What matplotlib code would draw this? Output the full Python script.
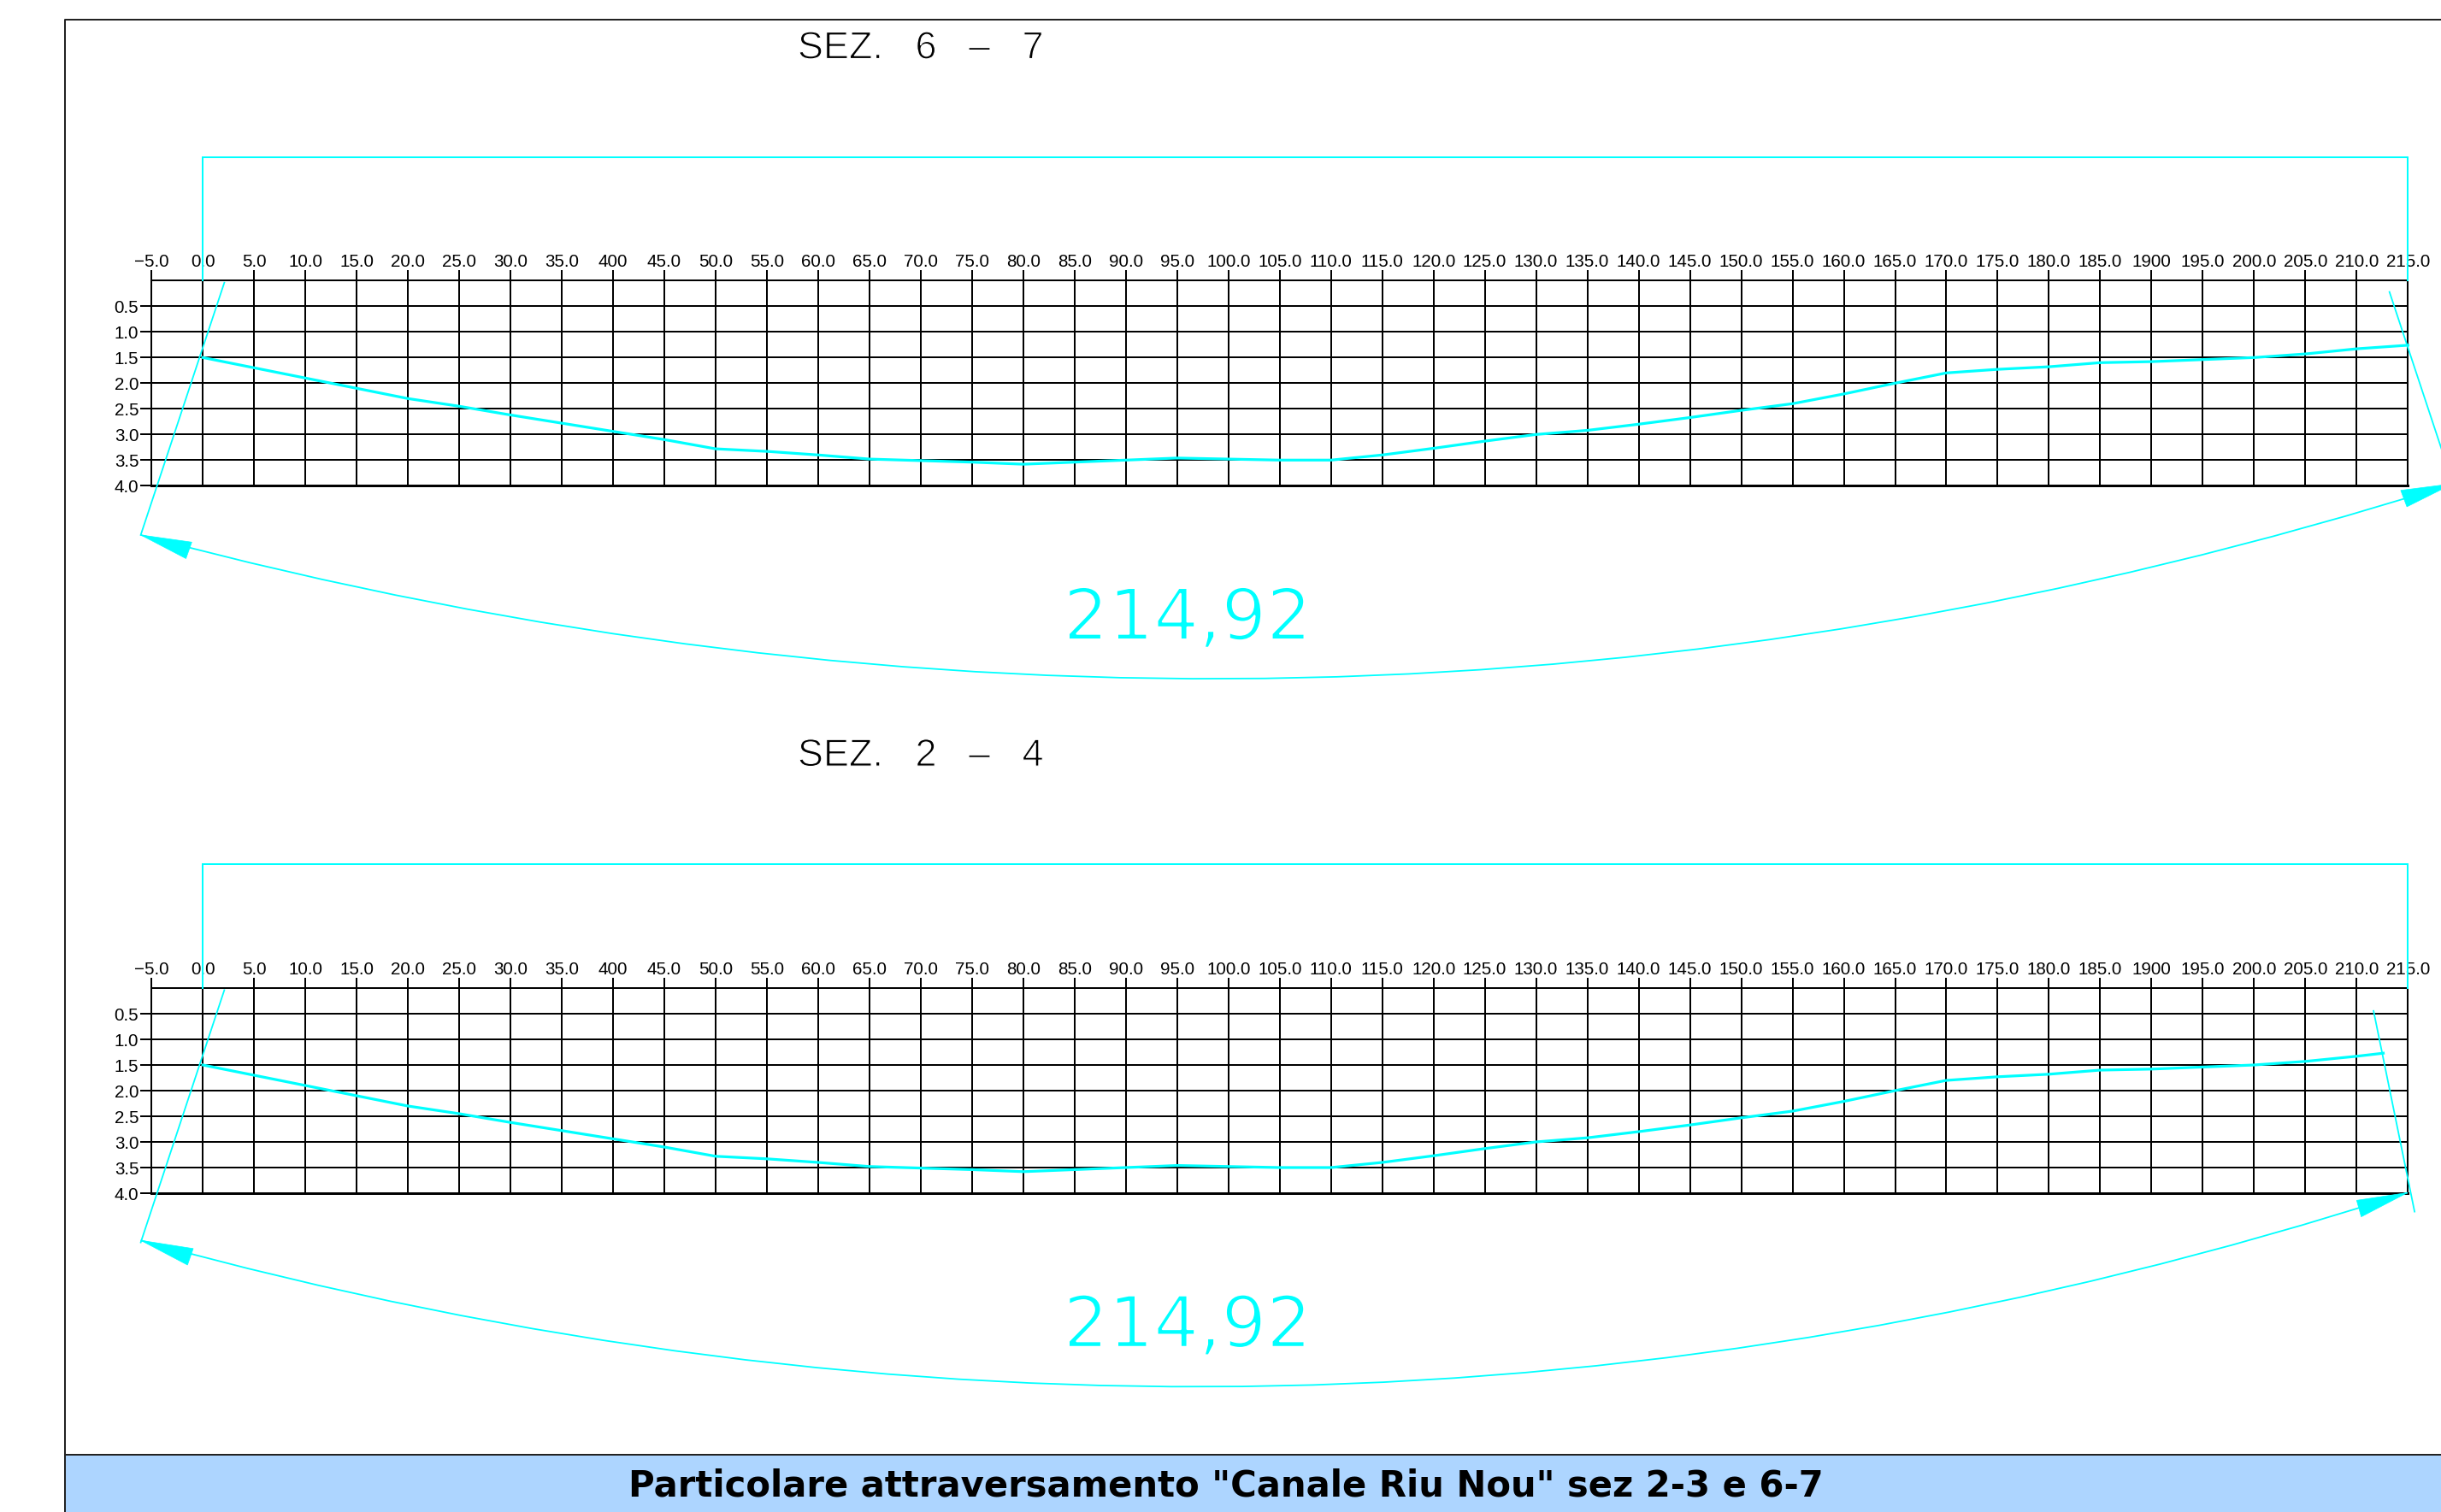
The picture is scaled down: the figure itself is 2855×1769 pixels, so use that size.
import matplotlib
matplotlib.use("Agg")
import matplotlib.pyplot as plt
import matplotlib.patheffects as pe
from matplotlib.patches import Polygon, PathPatch, Rectangle
from matplotlib.path import Path
from matplotlib.lines import Line2D

# ---------- data ----------
chainage = list(range(0, 220, 5))
depth_67 = [1.50, 1.70, 1.90, 2.10, 2.30, 2.45, 2.62, 2.78, 2.94, 3.10, 3.28, 3.33, 3.40, 3.48, 3.51,
            3.54, 3.58, 3.54, 3.50, 3.46, 3.48, 3.50, 3.50, 3.40, 3.27, 3.13, 3.00, 2.92, 2.80, 2.67,
            2.53, 2.40, 2.21, 2.00, 1.80, 1.73, 1.68, 1.60, 1.58, 1.54, 1.50, 1.43, 1.33, 1.26]
chainage_24 = chainage[:-1] + [212.6]
depth_24 = depth_67[:-2] + [1.33, 1.27]

x_ticks = list(range(-5, 220, 5))
x_labels = ["\u22125.0", "0.0", "5.0", "10.0", "15.0", "20.0", "25.0", "30.0", "35.0", "400", "45.0",
            "50.0", "55.0", "60.0", "65.0", "70.0", "75.0", "80.0", "85.0", "90.0", "95.0", "100.0",
            "105.0", "110.0", "115.0", "120.0", "125.0", "130.0", "135.0", "140.0", "145.0", "150.0",
            "155.0", "160.0", "165.0", "170.0", "175.0", "180.0", "185.0", "1900", "195.0", "200.0",
            "205.0", "210.0", "215.0"]
y_ticks = [0.5, 1.0, 1.5, 2.0, 2.5, 3.0, 3.5, 4.0]
y_labels = ["0.5", "1.0", "1.5", "2.0", "2.5", "3.0", "3.5", "4.0"]

box_x = [0, 0, 215, 215]
box_y = [0, -2.41, -2.41, 0]

titles = ["SEZ.   6   \u2013   7", "SEZ.   2   \u2013   4"]
dim_text = "214,92"
band_title = 'Particolare attraversamento "Canale Riu Nou" sez 2-3 e 6-7'

# dimension geometry (in chart units)
left_leader_x = [-6.05, 2.1]
left_leader_y = [4.96, 0.04]
right_leader_67_x = [213.2, 219.4]
right_leader_67_y = [0.22, 3.96]
right_leader_24_x = [211.65, 215.65]
right_leader_24_y = [0.445, 4.36]
arc_67 = [(-6.05, 4.96), (107.4, 11.03), (219.4, 3.96)]
arc_24 = [(-6.05, 4.92), (105.15, 11.06), (214.96, 3.99)]
heads_67 = [[(-6.05, 4.96), (-1.07, 5.10), (-1.64, 5.42)], [(219.4, 3.96), (214.3, 4.09), (214.9, 4.41)]]
heads_24 = [[(-6.05, 4.92), (-0.93, 5.08), (-1.49, 5.40)], [(214.96, 3.99), (210.0, 4.14), (210.45, 4.46)]]

# ---------- layout ----------
W, H = 2855, 1769
CYAN = "#00FFFF"
FONT = "Liberation Sans"
fig = plt.figure(figsize=(W / 100, H / 100), dpi=100, facecolor="white")


def fx(p):
    return p / W


def fy(p):
    return 1 - p / H


def px(p):
    return p * 0.72


# frame and title band
fig.add_artist(Rectangle((fx(75), 0), 1 - fx(75), fy(1702), transform=fig.transFigure,
                         facecolor="#ADD5FF", edgecolor="none", zorder=0))
fig.add_artist(Line2D([fx(75.5), fx(75.5), 1], [0, fy(23), fy(23)], transform=fig.transFigure,
                      color="#222222", lw=px(2), zorder=1))
fig.add_artist(Line2D([fx(75.5), 1], [fy(1702), fy(1702)], transform=fig.transFigure,
                      color="#222222", lw=px(2), zorder=1))
fig.text(fx(1434), fy(1750), band_title, ha="center", va="baseline", family="DejaVu Sans",
         weight="bold", fontsize=px(41.7), color="black")


def panel(top, xs, ys, title, right_x, right_y, arc, heads):
    left, right = 177.2, 2816.3
    ax = fig.add_axes([fx(left), fy(top + 240), fx(right - left), 240 / H])
    ax.patch.set_alpha(0)
    ax.set_xlim(-5, 215)
    ax.set_ylim(4, 0)
    ax.set_axisbelow(True)
    for s in ax.spines.values():
        s.set_color("black")
        s.set_linewidth(px(2))
    ax.spines["bottom"].set_linewidth(px(3))
    ax.xaxis.tick_top()
    ax.set_xticks(x_ticks, x_labels)
    ax.set_yticks(y_ticks, y_labels)
    ax.tick_params(axis="x", length=px(12.5), width=px(2), pad=0, labelsize=px(20.5),
                   colors="black", labelfontfamily=FONT)
    ax.tick_params(axis="y", length=px(13), width=px(2), pad=px(2), labelsize=px(20.5),
                   colors="black", labelfontfamily=FONT)
    ax.grid(True, color="black", lw=px(2))

    ax.plot(box_x, box_y, color=CYAN, lw=px(2), clip_on=False, zorder=5, solid_joinstyle="miter")
    ax.plot(xs, ys, color=CYAN, lw=px(3.2), clip_on=False, zorder=6)
    ax.plot(left_leader_x, left_leader_y, color=CYAN, lw=px(1.8), clip_on=False, zorder=5)
    ax.plot(right_x, right_y, color=CYAN, lw=px(1.8), clip_on=False, zorder=5)
    ax.add_patch(PathPatch(Path(arc, [Path.MOVETO, Path.CURVE3, Path.CURVE3]), facecolor="none",
                           edgecolor=CYAN, lw=px(1.8), clip_on=False, zorder=5))
    for h in heads:
        ax.add_patch(Polygon(h, closed=True, facecolor=CYAN, edgecolor=CYAN, lw=0.5,
                             clip_on=False, zorder=6))
    ax.text(96, 7.0, dim_text, color=CYAN, ha="center", va="baseline", family="DejaVu Sans",
            fontsize=px(83), clip_on=False, zorder=7,
            path_effects=[pe.Stroke(linewidth=px(2.5), foreground="white")])
    ax.text(58.0, -4.33, title, color="black", ha="left", va="baseline", family=FONT,
            fontsize=px(45), clip_on=False,
            path_effects=[pe.Stroke(linewidth=px(1.2), foreground="white")])


panel(328.3, chainage, depth_67, titles[0], right_leader_67_x, right_leader_67_y, arc_67, heads_67)
panel(1156.0, chainage_24, depth_24, titles[1], right_leader_24_x, right_leader_24_y, arc_24, heads_24)

fig.savefig("out.png", dpi=100, facecolor="white")
